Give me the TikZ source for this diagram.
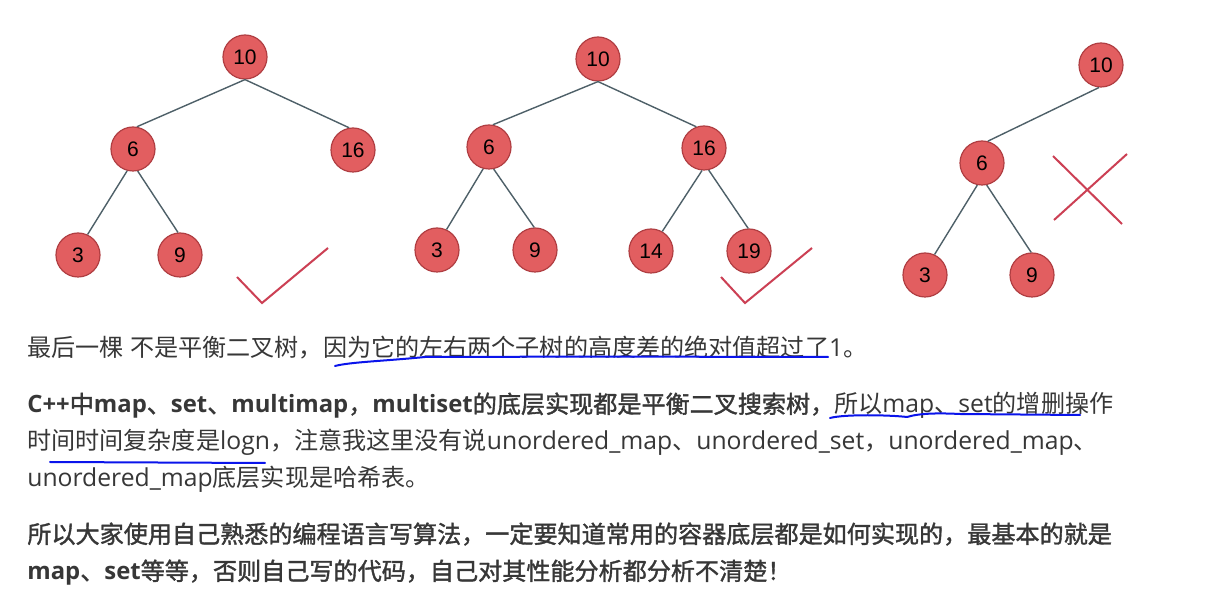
\documentclass[tikz,border=0pt]{standalone}
\usepackage{fontspec}
\setmainfont{Open Sans}[Scale=1.025]
\newfontfamily\latinb{Open Sans}[Scale=0.99]
\newfontfamily\cjk{Noto Sans CJK SC}
\newfontfamily\cjkbf{Noto Sans CJK SC}[FakeBold=1.5]
\newfontfamily\digits{Liberation Sans}
\usetikzlibrary{arrows}

\definecolor{nodered}{RGB}{226,94,96}
\definecolor{noderim}{RGB}{176,62,66}
\definecolor{edgegray}{RGB}{78,96,104}
\definecolor{markred}{RGB}{204,64,84}
\definecolor{inkblue}{RGB}{10,20,235}
\definecolor{textgray}{RGB}{55,55,55}

\newcommand{\zh}[1]{{\cjk #1}}
\newcommand{\zhb}[1]{{\cjkbf #1}}
\newcommand{\lb}[1]{{\latinb\bfseries #1}}

\tikzset{
  treenode/.style={circle, draw=noderim, fill=nodered, line width=0.6pt, minimum size=22pt, inner sep=0pt, font=\digits\fontsize{10.5pt}{12pt}\selectfont},
  treeedge/.style={draw=edgegray, line width=0.7pt},
  tickmark/.style={draw=markred, line width=1pt},
  textline/.style={anchor=base west, inner sep=0pt, text=textgray, font=\fontsize{12.05pt}{14pt}\selectfont},
  penline/.style={draw=inkblue, line width=1pt, line cap=round, line join=round}
}

\begin{document}
\begin{tikzpicture}[x=0.5pt, y=-0.5pt]
    \fill[white] (0, 0) rectangle (1211, 614);
    \useasboundingbox (0, 0) rectangle (1211, 614);

    % first tree
    \node[treenode] (a10) at (245, 57) {10};
    \node[treenode] (a6) at (133, 149) {6};
    \node[treenode] (a16) at (353, 150) {16};
    \node[treenode] (a3) at (78, 255) {3};
    \node[treenode] (a9) at (180, 255) {9};
    \draw[treeedge] (a10.south) -- (a6.80);
    \draw[treeedge] (a10.south) -- (a16.100);
    \draw[treeedge] (a6.255) -- (a3.65);
    \draw[treeedge] (a6.282) -- (a9.95);
    \draw[tickmark] (237, 277) -- (262, 303) -- (328, 248);

    % second tree
    \node[treenode] (b10) at (598, 59) {10};
    \node[treenode] (b6) at (489, 147) {6};
    \node[treenode] (b16) at (704, 148) {16};
    \node[treenode] (b3) at (437, 250) {3};
    \node[treenode] (b9) at (535, 250) {9};
    \node[treenode] (b14) at (651, 251) {14};
    \node[treenode] (b19) at (749, 251) {19};
    \draw[treeedge] (b10.south) -- (b6.80);
    \draw[treeedge] (b10.south) -- (b16.110);
    \draw[treeedge] (b6.255) -- (b3.65);
    \draw[treeedge] (b6.282) -- (b9.92);
    \draw[treeedge] (b16.265) -- (b14.60);
    \draw[treeedge] (b16.282) -- (b19.92);
    \draw[tickmark] (721, 277) -- (745, 303) -- (812, 248);

    % third tree, not balanced
    \node[treenode] (c10) at (1101, 65) {10};
    \node[treenode] (c6) at (982, 163) {6};
    \node[treenode] (c3) at (925, 275) {3};
    \node[treenode] (c9) at (1032, 275) {9};
    \draw[treeedge] (c10.265) -- (c6.75);
    \draw[treeedge] (c6.258) -- (c3.65);
    \draw[treeedge] (c6.282) -- (c9.92);
    \draw[tickmark] (1053, 156) -- (1122, 224);
    \draw[tickmark] (1127, 154) -- (1054, 220);

    % text
    \node[textline] (l1) at (27, 357) {\zh{最后一棵} \zh{不是平衡二叉树，因为它的左右两个子树的高度差的绝对值超过了}1\zh{。}};
    \node[textline] (l2) at (27, 413) {\lb{C++}\zhb{中}\lb{map}\zhb{、}\lb{set}\zhb{、}\lb{multimap}\zhb{，}\lb{multiset}\zhb{的底层实现都是平衡二叉搜索树，}\zh{所以}map\zh{、}set\zh{的增删操作}};
    \node[textline] (l3) at (27, 450) {\zh{时间时间复杂度是}logn\zh{，注意我这里没有说}unordered\_map\zh{、}unordered\_set\zh{，}unordered\_map\zh{、}};
    \node[textline] (l4) at (27, 487) {unordered\_map\zh{底层实现是哈希表。}};
    \node[textline] (l5) at (27, 543) {\zhb{所以大家使用自己熟悉的编程语言写算法，一定要知道常用的容器底层都是如何实现的，最基本的就是}};
    \node[textline] (l6) at (27, 580) {\lb{map}\zhb{、}\lb{set}\zhb{等等，否则自己写的代码，自己对其性能分析都分析不清楚！}};

    % pen strokes
    \draw[penline] (335, 366) .. controls (350, 362) and (385, 361) .. (425, 357) -- (485, 357) .. controls (600, 356) and (700, 357) .. (828, 357);
    \draw[penline] (830, 418) .. controls (845, 414) and (890, 415) .. (907, 417) .. controls (920, 413) and (940, 413) .. (960, 414) -- (1080, 415);
    \draw[penline] (50, 462) -- (265, 463);
\end{tikzpicture}
\end{document}
